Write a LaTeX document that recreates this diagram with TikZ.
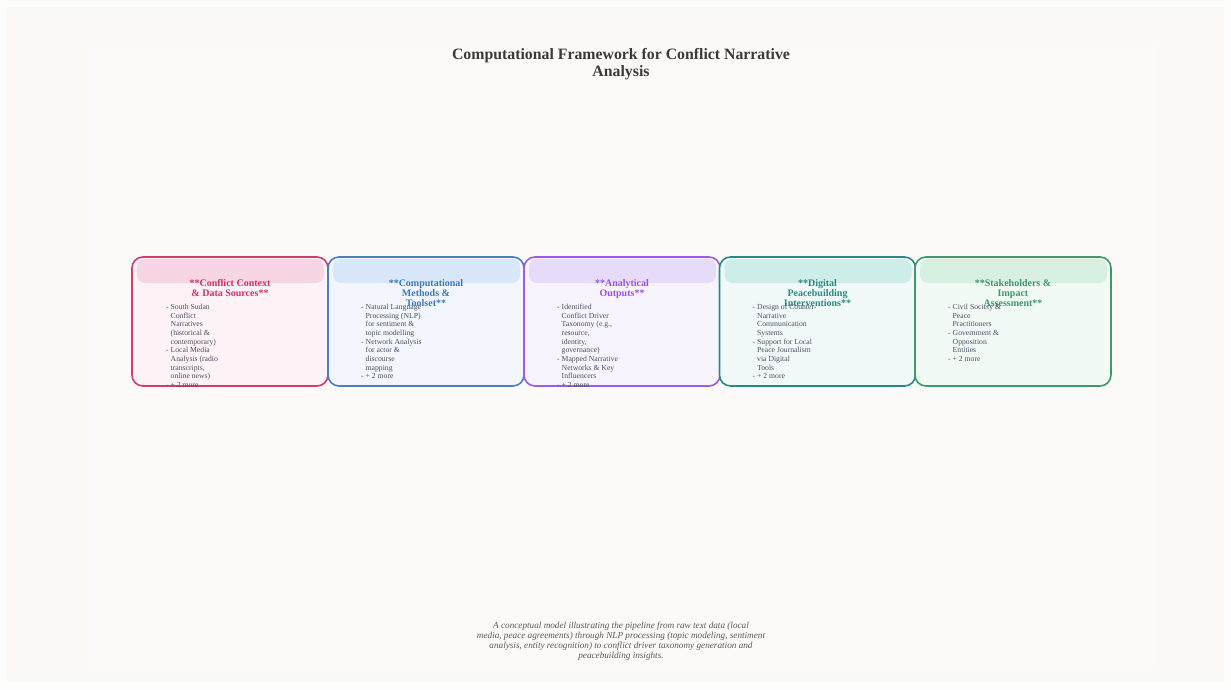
\documentclass[tikz,border=0pt]{standalone}
\usepackage{fontspec}
\setmainfont{Liberation Serif}
\definecolor{outerbg}{HTML}{FDFDFB}
\definecolor{pagebg}{HTML}{FAF9F6}
\definecolor{innerbg}{HTML}{FBFAF8}
\definecolor{titlegrey}{HTML}{3A3A3A}
\definecolor{bodygrey}{HTML}{4B5163}
\definecolor{notegrey}{HTML}{5A5A5A}
% card colours
\definecolor{ctxline}{HTML}{D23D6E}
\definecolor{ctxfill}{HTML}{FDF3F7}
\definecolor{ctxhead}{HTML}{F8D5E4}
\definecolor{ctxtext}{HTML}{D12F68}
\definecolor{methline}{HTML}{4A80BF}
\definecolor{methfill}{HTML}{F3F7FD}
\definecolor{methhead}{HTML}{D8E8FA}
\definecolor{methtext}{HTML}{3E78BF}
\definecolor{outline}{HTML}{9A5BEF}
\definecolor{outfill}{HTML}{F7F4FD}
\definecolor{outhead}{HTML}{E6DCFA}
\definecolor{outtext}{HTML}{9B4EEE}
\definecolor{digline}{HTML}{2B8981}
\definecolor{digfill}{HTML}{F1FAF9}
\definecolor{dighead}{HTML}{CDEDE8}
\definecolor{digtext}{HTML}{2A8880}
\definecolor{stkline}{HTML}{3E9A6B}
\definecolor{stkfill}{HTML}{F2FAF5}
\definecolor{stkhead}{HTML}{D7F0E2}
\definecolor{stktext}{HTML}{3D986A}
\tikzset{
  card/.style={draw=#1, line width=1.6pt, rounded corners=11pt, minimum width=196pt, minimum height=129pt, inner sep=0pt},
  cardhead/.style={fill=#1, rounded corners=8pt, minimum width=187pt, minimum height=24pt, inner sep=0pt},
  cardtitle/.style={text=#1, anchor=north, align=center, inner sep=0pt, font=\fontsize{10}{10}\selectfont\bfseries},
  cardtext/.style={text=bodygrey, anchor=north west, align=left, inner sep=0pt, font=\fontsize{7.7}{8.67}\selectfont}
}
\begin{document}
\begin{tikzpicture}[x = 1pt, y = -1pt]
  \fill[outerbg] (0,0) rectangle (1231,689);
  \fill[pagebg] (7,7) rectangle (1224,682);
  \fill[innerbg] (88,43) rectangle (1154,665);
  \useasboundingbox (0,0) rectangle (1231,689);

  \node[font=\fontsize{15.8}{17}\selectfont\bfseries, text=titlegrey, align=center] (title) at (621,64) {Computational Framework for Conflict Narrative\\Analysis};

  % cards
  \node[card=ctxline, fill=ctxfill] (ctx) at (230,321.5) {};
  \node[card=methline, fill=methfill] (meth) at (426,321.5) {};
  \node[card=outline, fill=outfill] (out) at (622,321.5) {};
  \node[card=digline, fill=digfill] (dig) at (817.5,321.5) {};
  \node[card=stkline, fill=stkfill] (stk) at (1013,321.5) {};

  \node[cardhead=ctxhead] (ctxband) at (230.5,271) {};
  \node[cardhead=methhead] (methband) at (426.5,271) {};
  \node[cardhead=outhead] (outband) at (622.5,271) {};
  \node[cardhead=dighead] (digband) at (818,271) {};
  \node[cardhead=stkhead] (stkband) at (1013.5,271) {};

  \node[cardtitle=ctxtext] (ctxtitle) at (230,279) {**Conflict Context\\\& Data Sources**};
  \node[cardtitle=methtext] (methtitle) at (426,279) {**Computational\\Methods \&\\Toolset**};
  \node[cardtitle=outtext] (outtitle) at (622,279) {**Analytical\\Outputs**};
  \node[cardtitle=digtext] (digtitle) at (817.5,279) {**Digital\\Peacebuilding\\Interventions**};
  \node[cardtitle=stktext] (stktitle) at (1013,279) {**Stakeholders \&\\Impact\\Assessment**};

  \node[cardtext] (ctxbody) at (166,304) {- South Sudan\\\hphantom{- }Conflict\\\hphantom{- }Narratives\\\hphantom{- }(historical \&\\\hphantom{- }contemporary)\\- Local Media\\\hphantom{- }Analysis (radio\\\hphantom{- }transcripts,\\\hphantom{- }online news)\\- + 2 more};
  \node[cardtext] (methbody) at (361,304) {- Natural Language\\\hphantom{- }Processing (NLP)\\\hphantom{- }for sentiment \&\\\hphantom{- }topic modelling\\- Network Analysis\\\hphantom{- }for actor \&\\\hphantom{- }discourse\\\hphantom{- }mapping\\- + 2 more};
  \node[cardtext] (outbody) at (557,304) {- Identified\\\hphantom{- }Conflict Driver\\\hphantom{- }Taxonomy (e.g.,\\\hphantom{- }resource,\\\hphantom{- }identity,\\\hphantom{- }governance)\\- Mapped Narrative\\\hphantom{- }Networks \& Key\\\hphantom{- }Influencers\\- + 2 more};
  \node[cardtext] (digbody) at (752.5,304) {- Design of Counter-\\\hphantom{- }Narrative\\\hphantom{- }Communication\\\hphantom{- }Systems\\- Support for Local\\\hphantom{- }Peace Journalism\\\hphantom{- }via Digital\\\hphantom{- }Tools\\- + 2 more};
  \node[cardtext] (stkbody) at (948,304) {- Civil Society \&\\\hphantom{- }Peace\\\hphantom{- }Practitioners\\- Government \&\\\hphantom{- }Opposition\\\hphantom{- }Entities\\- + 2 more};

  \node[font=\fontsize{9.2}{10}\selectfont\itshape, text=notegrey, align=center] (note) at (621,641) {A conceptual model illustrating the pipeline from raw text data (local\\media, peace agreements) through NLP processing (topic modeling, sentiment\\analysis, entity recognition) to conflict driver taxonomy generation and\\peacebuilding insights.};
\end{tikzpicture}
\end{document}
